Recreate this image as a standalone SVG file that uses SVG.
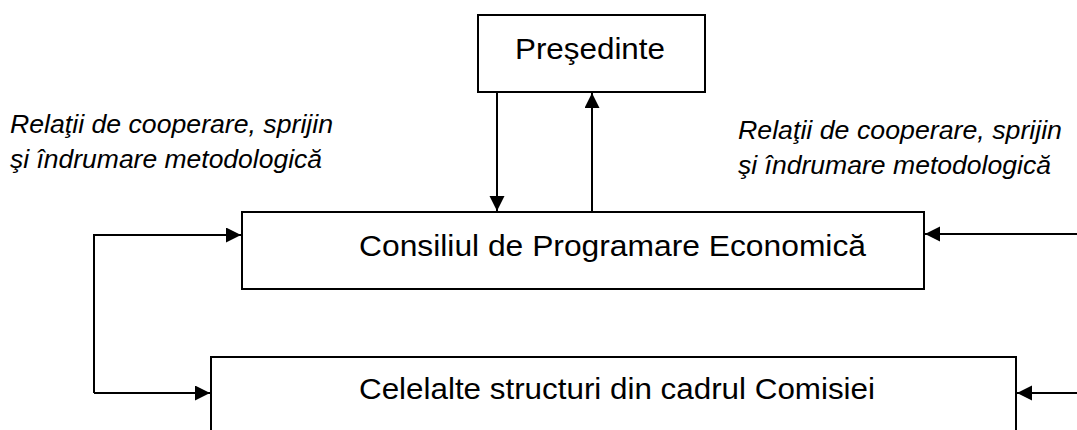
<svg xmlns="http://www.w3.org/2000/svg" width="1077" height="430" viewBox="0 0 1077 430">
<style>
.box{fill:#fff;stroke:#000;stroke-width:2}
.t{font-family:"Liberation Sans",Arial,sans-serif;font-size:30px;fill:#000}
.lbl{font-family:"Liberation Sans",Arial,sans-serif;font-size:25px;font-style:italic;fill:#000}
.c{fill:none;stroke:#000;stroke-width:2}
</style>
<defs>
<marker id="ah" markerUnits="userSpaceOnUse" markerWidth="16" markerHeight="16" refX="15" refY="7.5" orient="auto">
<path d="M0,0 L15,7.5 L0,15 z" fill="#000"/>
</marker>
</defs>
<rect width="1077" height="430" fill="#fff"/>
<g id="presedinte">
<rect class="box" x="478" y="15" width="227" height="77"/>
<text class="t" x="515" y="59" textLength="150" lengthAdjust="spacingAndGlyphs">Preşedinte</text>
</g>
<g id="consiliul">
<rect class="box" x="242" y="212" width="682" height="77"/>
<text class="t" x="359" y="256" textLength="507" lengthAdjust="spacingAndGlyphs">Consiliul de Programare Economică</text>
</g>
<g id="celelalte">
<rect class="box" x="211" y="357" width="805" height="90"/>
<text class="t" x="359" y="399" textLength="516" lengthAdjust="spacingAndGlyphs">Celelalte structuri din cadrul Comisiei</text>
</g>
<g id="label-left">
<text class="lbl" x="10" y="133" textLength="323" lengthAdjust="spacingAndGlyphs">Relaţii de cooperare, sprijin</text>
<text class="lbl" x="10" y="168" textLength="312" lengthAdjust="spacingAndGlyphs">şi îndrumare metodologică</text>
</g>
<g id="label-right">
<text class="lbl" x="738" y="139" textLength="324" lengthAdjust="spacingAndGlyphs">Relaţii de cooperare, sprijin</text>
<text class="lbl" x="738" y="174" textLength="313" lengthAdjust="spacingAndGlyphs">şi îndrumare metodologică</text>
</g>
<g id="connectors">
<line class="c" x1="497" y1="92" x2="497" y2="211" marker-end="url(#ah)"/>
<line class="c" x1="592" y1="212" x2="592" y2="93" marker-end="url(#ah)"/>
<polyline class="c" points="94,393 94,235 241,235" marker-end="url(#ah)"/>
<line class="c" x1="94" y1="393" x2="210" y2="393" marker-end="url(#ah)"/>
<line class="c" x1="1077" y1="234" x2="925" y2="234" marker-end="url(#ah)"/>
<line class="c" x1="1077" y1="393" x2="1017" y2="393" marker-end="url(#ah)"/>
</g>
</svg>
